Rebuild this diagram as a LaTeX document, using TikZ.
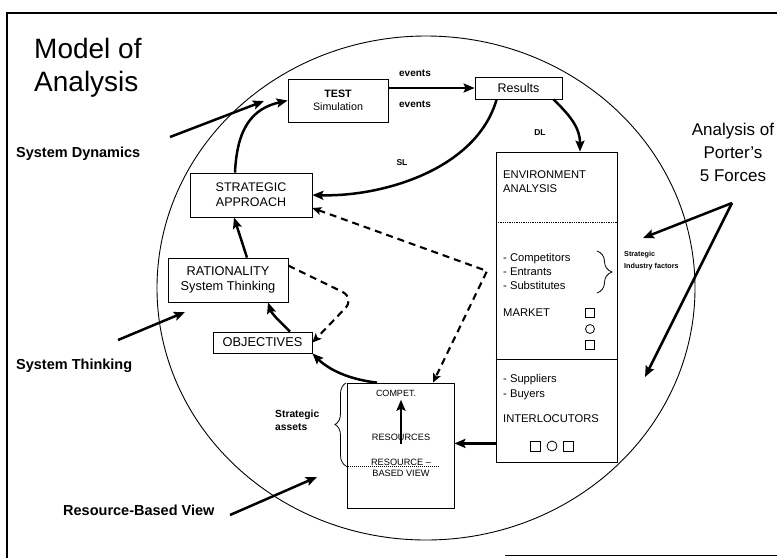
\documentclass[tikz,border=0pt]{standalone}
\usepackage{fontspec}
\setmainfont{Liberation Sans}
\usetikzlibrary{arrows.meta,decorations.pathreplacing}
\newcommand{\fsz}[2]{\fontsize{#1}{#2}\selectfont}

\begin{document}
\begin{tikzpicture}[x=1pt,y=-1pt,
  box/.style={draw,line width=0.8pt,align=center,inner sep=0pt},
  arr/.style={-{Stealth[length=11pt,width=9pt,inset=2pt]},line width=2.5pt},
  dline/.style={line width=2.1pt,dash pattern=on 7pt off 5pt},
  dtip/.style={-{Stealth[length=9pt,width=8pt,inset=2pt]}},
  dtips/.style={{Stealth[length=9pt,width=8pt,inset=2pt]}-{Stealth[length=9pt,width=8pt,inset=2pt]}},
  side/.style={font=\bfseries\fsz{14.5}{17},anchor=base west,inner sep=0pt},
  txt/.style={anchor=north west,align=left,inner sep=0pt,font=\fsz{11.2}{14}},
  sq/.style={draw,line width=0.8pt,minimum size=9pt,inner sep=0pt},
  rd/.style={draw,circle,line width=0.8pt,minimum size=9pt,inner sep=0pt}]
\useasboundingbox (0,0) rectangle (777,558);
\draw[line width=1.2pt] (7,558) -- (7,13) -- (777,13);
\draw[line width=1pt] (505,555) -- (777,555);
\draw[line width=0.9pt] (426,288) ellipse [x radius=269, y radius=252];

\node[anchor=north west,align=left,inner sep=0pt,font=\fsz{28}{33}] (title) at (34,38) {Model of\\Analysis};
\node[side] (sysdyn) at (16,157) {System Dynamics};
\node[side] (systhink) at (16,369) {System Thinking};
\node[side] (rbvview) at (63,515) {Resource-Based View};
\node[align=center,inner sep=0pt,font=\fsz{17}{23}] (porter) at (733,152) {Analysis of\\Porter's\\5 Forces};

\node[box,minimum width=100pt,minimum height=43pt,font=\fsz{10.7}{13}] (test) at (338,100.5) {\textbf{TEST}\\Simulation};
\node[box,minimum width=87pt,minimum height=22pt,font=\fsz{12.5}{15}] (results) at (518.5,88) {Results};
\node[box,minimum width=122pt,minimum height=44pt,font=\fsz{12.5}{15}] (strategic) at (251,195) {STRATEGIC\\APPROACH};
\node[box,minimum width=120pt,minimum height=44pt,font=\fsz{12.8}{15}] (rationality) at (228,280) {RATIONALITY\\System Thinking};
\node[box,minimum width=99pt,minimum height=21pt,font=\fsz{12.8}{15}] (objectives) at (262.5,342.5) {OBJECTIVES};
\node[box,minimum width=107pt,minimum height=125pt] (rbv) at (400.5,445.5) {};
\node[box,minimum width=121pt,minimum height=310pt] (env) at (556.5,307) {};

\node[font=\bfseries\fsz{10}{12}] (evtop) at (415,73) {events};
\node[font=\bfseries\fsz{10}{12}] (evbot) at (415,104) {events};
\node[font=\bfseries\fsz{8.5}{10}] (dl) at (540,133) {DL};
\node[font=\bfseries\fsz{8.5}{10}] (sl) at (402,163) {SL};
\node[anchor=north west,align=left,inner sep=0pt,font=\bfseries\fsz{7.2}{12}] (sif) at (624,251) {Strategic\\Industry factors};
\node[anchor=north west,align=left,inner sep=0pt,font=\bfseries\fsz{10.3}{13}] (sassets) at (275,410) {Strategic\\assets};

\node[txt] (envname) at (503,170) {ENVIRONMENT\\ANALYSIS};
\node[txt] (forces) at (503,253) {- Competitors\\- Entrants\\- Substitutes};
\node[txt] (market) at (503,309) {MARKET};
\node[txt,font=\fsz{11.2}{15}] (partners) at (503,374) {- Suppliers\\- Buyers};
\node[txt] (interloc) at (503,414) {INTERLOCUTORS};
\node[sq] (mk1) at (590,313) {};
\node[rd] (mk2) at (590,329) {};
\node[sq] (mk3) at (590,345) {};
\node[sq,minimum size=10pt] (il1) at (535,446) {};
\node[rd,minimum size=10pt] (il2) at (552,446) {};
\node[sq,minimum size=10pt] (il3) at (568,446) {};
\draw[line width=1.3pt,densely dotted] ([yshift=-71pt]env.north west) -- ([yshift=-71pt]env.north east);
\draw[line width=1.1pt] ([yshift=-208pt]env.north west) -- ([yshift=-208pt]env.north east);
\draw[line width=0.8pt,decorate,decoration={brace,amplitude=15pt}] (597,251) -- (597,293);

\node[font=\fsz{9}{11}] (compet) at (396,393) {COMPET.};
\node[font=\fsz{9.2}{11}] (resources) at (401,437) {RESOURCES};
\node[align=center,font=\fsz{9.2}{11}] (rbvname) at (401,467.5) {RESOURCE --\\BASED VIEW};
\draw[arr] (resources.south) -- (resources.south |- compet.south);
\draw[line width=0.8pt,decorate,decoration={brace,amplitude=11pt}] (346,466) -- (346,383);
\draw[line width=1pt,densely dotted] (346,466) -- (440,466);

\draw[arr] (test.east |- results.west) -- (results.west);
\draw[arr] (results.-18) .. controls +(15,15) and +(0,-25) .. ([xshift=23.5pt]env.north);
\draw[arr] ([xshift=22pt]results.south west) .. controls +(-20,70) and +(70,2) .. (strategic.east);
\draw[arr] ([xshift=-16pt]strategic.north) .. controls +(2,-45) and +(-35,8) .. (test.west);
\draw[arr] ([xshift=19pt]rationality.north) -- ([xshift=-17pt]strategic.south);
\draw[arr] ([xshift=27.5pt]objectives.north) .. controls +(-8,-8) and +(4,12) .. ([xshift=40pt]rationality.south);
\draw[arr] ([xshift=-23.5pt]rbv.north) .. controls +(-35,-4) and +(12,12) .. (objectives.south east);
\coordinate (envout) at ([yshift=19pt]env.south west);
\draw[arr] (envout) -- (envout -| rbv.east);

\coordinate (dbend) at (355,298);
\draw[dline,dtip,rounded corners=14pt] ([yshift=-8pt]rationality.north east) -- (dbend) -- (objectives.east);
\coordinate (dcorner) at (487,271);
\draw[dline,dtips] ([yshift=-13pt]strategic.east) -- (dcorner) -- ([xshift=32.5pt]rbv.north);

\coordinate (sdfrom) at (170,137);
\coordinate (sdto) at (264,101);
\draw[arr] (sdfrom) -- (sdto);
\coordinate (stfrom) at (118,340);
\coordinate (stto) at (185,312);
\draw[arr] (stfrom) -- (stto);
\coordinate (rvfrom) at (230,515);
\coordinate (rvto) at (317,477);
\draw[arr] (rvfrom) -- (rvto);
\coordinate (pfork) at (732,203);
\coordinate (ptip1) at (643,238);
\coordinate (ptip2) at (645,377);
\draw[arr] (pfork) -- (ptip1);
\draw[arr] (pfork) -- (ptip2);
\end{tikzpicture}
\end{document}
